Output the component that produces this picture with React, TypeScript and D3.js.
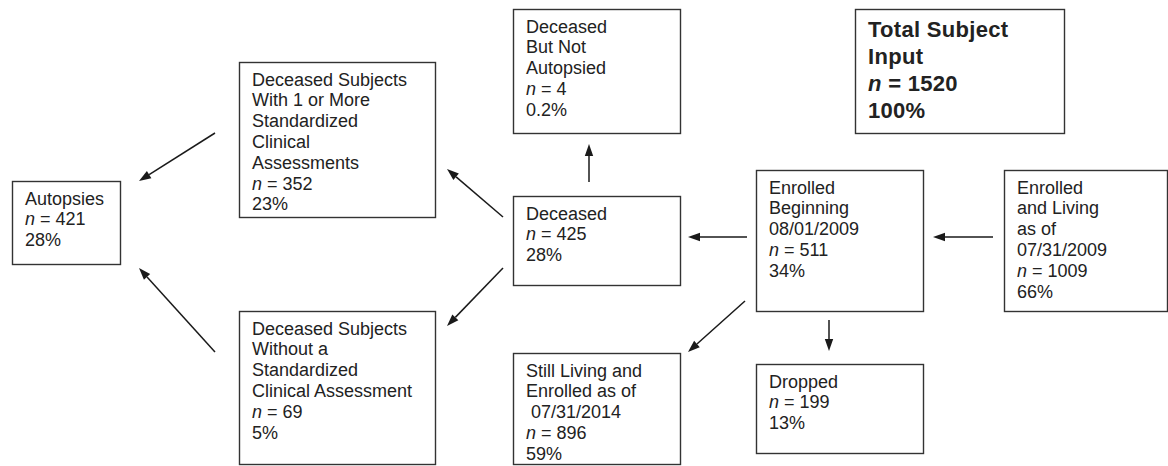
import React from "react";
import * as d3 from "d3";

// ---- Data ----
const boxIds = ["autopsies", "withAssess", "withoutAssess", "notAutopsied", "deceased", "stillLiving", "total", "enrolledBeg", "enrolledLiving", "dropped"];
const boxTitles: string[][] = [
  ["Autopsies"],
  ["Deceased Subjects", "With 1 or More", "Standardized", "Clinical", "Assessments"],
  ["Deceased Subjects", "Without a", "Standardized", "Clinical Assessment"],
  ["Deceased", "But Not", "Autopsied"],
  ["Deceased"],
  ["Still Living and", "Enrolled as of", " 07/31/2014"],
  ["Total Subject", "Input"],
  ["Enrolled", "Beginning", "08/01/2009"],
  ["Enrolled", "and Living", "as of", "07/31/2009"],
  ["Dropped"],
];
const boxN = [421, 352, 69, 4, 425, 896, 1520, 511, 1009, 199];
const boxPct = ["28%", "23%", "5%", "0.2%", "28%", "59%", "100%", "34%", "66%", "13%"];
const arrowFrom = ["withAssess", "withoutAssess", "deceased", "deceased", "deceased", "enrolledBeg", "enrolledLiving", "enrolledBeg", "enrolledBeg"];
const arrowTo = ["autopsies", "autopsies", "withAssess", "withoutAssess", "notAutopsied", "deceased", "enrolledBeg", "stillLiving", "dropped"];

// ---- Layout ----
const boxLayout: Record<string, { x: number; y: number; w: number; h: number; bold?: boolean }> = {
  autopsies: { x: 12, y: 181, w: 108, h: 83 },
  withAssess: { x: 239, y: 62, w: 196, h: 155 },
  withoutAssess: { x: 239, y: 311, w: 196, h: 153 },
  notAutopsied: { x: 513, y: 9, w: 167, h: 124 },
  deceased: { x: 513, y: 196, w: 167, h: 89 },
  stillLiving: { x: 513, y: 353, w: 167, h: 111 },
  total: { x: 855, y: 9, w: 209, h: 124, bold: true },
  enrolledBeg: { x: 756, y: 170, w: 167, h: 141 },
  enrolledLiving: { x: 1004, y: 170, w: 163, h: 141 },
  dropped: { x: 756, y: 364, w: 167, h: 89 },
};
const arrowLayout: [number, number, number, number][] = [
  [215, 133, 139, 181],
  [215, 352, 139, 268],
  [503, 217, 447, 169],
  [503, 268, 447, 326],
  [589, 182, 589, 144],
  [747, 237, 688, 237],
  [993, 237, 933, 237],
  [745, 301, 688, 352],
  [829, 320, 829, 351],
];

const FONT = "'Liberation Sans', Arial, Helvetica, sans-serif";
const INK = "#222";

export default function App() {
  const W = 1168, H = 466;
  const headLen = 12, headHalf = 4.2;

  return (
    <svg width={W} height={H} style={{ position: "absolute", left: 0, top: 0, background: "#fff" }} fontFamily={FONT}>
      <rect x={0} y={0} width={W} height={H} fill="#fff" />
      {boxIds.map((id, i) => {
        const b = boxLayout[id];
        const bold = !!b.bold;
        const fs = bold ? 22 : 18;
        const lh = bold ? 27.2 : 20.8;
        const first = bold ? 27.5 : 23.5;
        const lines: React.ReactNode[] = [];
        boxTitles[i].forEach((t) => lines.push(<tspan style={{ whiteSpace: "pre" }}>{t}</tspan>));
        lines.push(
          <tspan>
            <tspan fontStyle="italic">n</tspan>
            {` = ${d3.format("d")(boxN[i])}`}
          </tspan>
        );
        lines.push(<tspan>{boxPct[i]}</tspan>);
        return (
          <g key={id}>
            <rect x={b.x + 0.5} y={b.y + 0.5} width={b.w} height={b.h} fill="#fff" stroke="#333" strokeWidth={1.4} />
            {lines.map((ln, k) => (
              <text
                key={k}
                x={b.x + 13}
                y={b.y + first + k * lh}
                fontSize={fs}
                fontWeight={bold ? "bold" : "normal"}
                letterSpacing={bold ? 0.3 : 0}
                fill={INK}
                style={{ whiteSpace: "pre" }}
              >
                {ln}
              </text>
            ))}
          </g>
        );
      })}
      {arrowLayout.map(([x1, y1, x2, y2], i) => {
        const ang = Math.atan2(y2 - y1, x2 - x1);
        const bx = x2 - headLen * Math.cos(ang);
        const by = y2 - headLen * Math.sin(ang);
        const px = -Math.sin(ang) * headHalf;
        const py = Math.cos(ang) * headHalf;
        const path = d3.path();
        path.moveTo(x2, y2);
        path.lineTo(bx + px, by + py);
        path.lineTo(bx - px, by - py);
        path.closePath();
        return (
          <g key={`a${i}`} data-from={arrowFrom[i]} data-to={arrowTo[i]}>
            <line x1={x1} y1={y1} x2={bx} y2={by} stroke="#1a1a1a" strokeWidth={1.5} />
            <path d={path.toString()} fill="#1a1a1a" />
          </g>
        );
      })}
    </svg>
  );
}
